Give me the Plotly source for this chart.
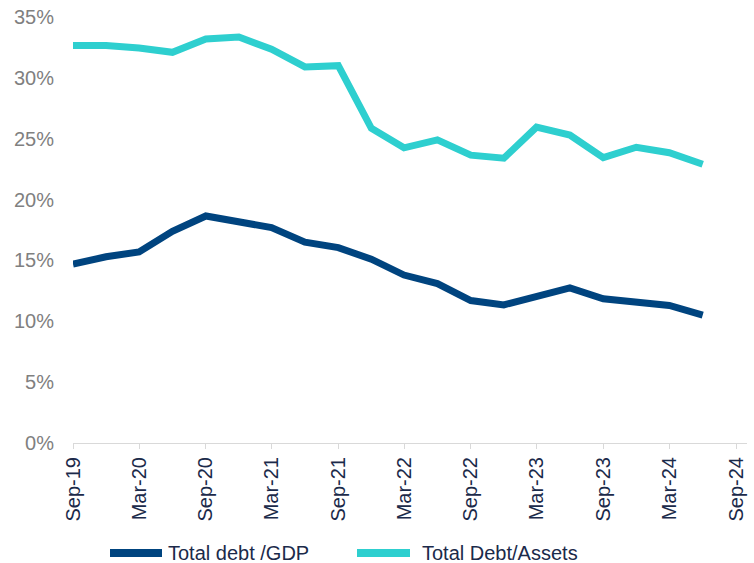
import plotly.graph_objects as go

quarters = [
    "2019-09-01", "2019-12-01", "2020-03-01", "2020-06-01", "2020-09-01",
    "2020-12-01", "2021-03-01", "2021-06-01", "2021-09-01", "2021-12-01",
    "2022-03-01", "2022-06-01", "2022-09-01", "2022-12-01", "2023-03-01",
    "2023-06-01", "2023-09-01", "2023-12-01", "2024-03-01", "2024-06-01",
]
debt_gdp = [14.7, 15.3, 15.7, 17.4, 18.65, 18.1, 17.7, 16.5, 16.05, 15.1,
            13.8, 13.1, 11.7, 11.35, 12.05, 12.75, 11.85, 11.6, 11.3, 10.5]
debt_assets = [32.65, 32.66, 32.45, 32.1, 33.2, 33.35, 32.35, 30.9, 31.0, 25.85,
               24.25, 24.9, 23.65, 23.4, 25.95, 25.3, 23.45, 24.3, 23.85, 22.9]

series_names = ["Total debt /GDP", "Total Debt/Assets"]
colors = ["#00447f", "#2ecfcf"]

W, H = 754, 563
L, R, T, B = 73, 7, 17, 120
pw, ph = W - L - R, H - T - B

fig = go.Figure()
for name, vals, col in zip(series_names, [debt_gdp, debt_assets], colors):
    fig.add_trace(go.Scatter(
        x=quarters, y=vals, mode="lines", name=name,
        line=dict(color=col, width=7),
        hoverinfo="skip", showlegend=False,
    ))

# legend drawn as swatch + text (positions in pixels converted to paper coords)
legend_swatch_x = [(110, 162), (357, 410)]
legend_text_x = [166, 420]
legend_y_px = 553


def px_x(px):
    return (px - L) / pw


def px_y(py):
    return (H - B - py) / ph


shapes = []
annotations = []
for name, col, (x0, x1), tx in zip(series_names, colors, legend_swatch_x, legend_text_x):
    shapes.append(dict(
        type="line", xref="paper", yref="paper",
        x0=px_x(x0), x1=px_x(x1), y0=px_y(legend_y_px), y1=px_y(legend_y_px),
        line=dict(color=col, width=8),
    ))
    annotations.append(dict(
        xref="paper", yref="paper", x=px_x(tx), y=px_y(legend_y_px),
        xanchor="left", yanchor="middle", showarrow=False, text=name,
        font=dict(size=20, color="#1b2a4a"),
    ))

fig.update_layout(
    width=W, height=H,
    margin=dict(l=L, r=R, t=T, b=B),
    paper_bgcolor="white", plot_bgcolor="white",
    font=dict(family="Liberation Sans, Arial, sans-serif", size=20, color="#1b2a4a"),
    showlegend=False,
    shapes=shapes,
    annotations=annotations,
)
fig.update_xaxes(
    type="date", range=["2019-09-01", "2024-10-01"],
    tick0="2019-09-01", dtick="M6", tickformat="%b-%y",
    tickangle=-90, ticks="outside", ticklen=5, tickcolor="#d9d9d9",
    showline=True, linecolor="#d9d9d9", linewidth=1,
    showgrid=False, zeroline=False, automargin=False,
    tickfont=dict(size=20, color="#1b2a4a"),
)
fig.update_yaxes(
    range=[0, 35], dtick=5, ticksuffix="%",
    showgrid=False, zeroline=False, showline=False, ticks="",
    ticklabelstandoff=18, automargin=False,
    tickfont=dict(size=20, color="#808080"),
)

fig.write_html("out.html", config={"displayModeBar": False},
               post_script="document.body.style.margin='0';")
